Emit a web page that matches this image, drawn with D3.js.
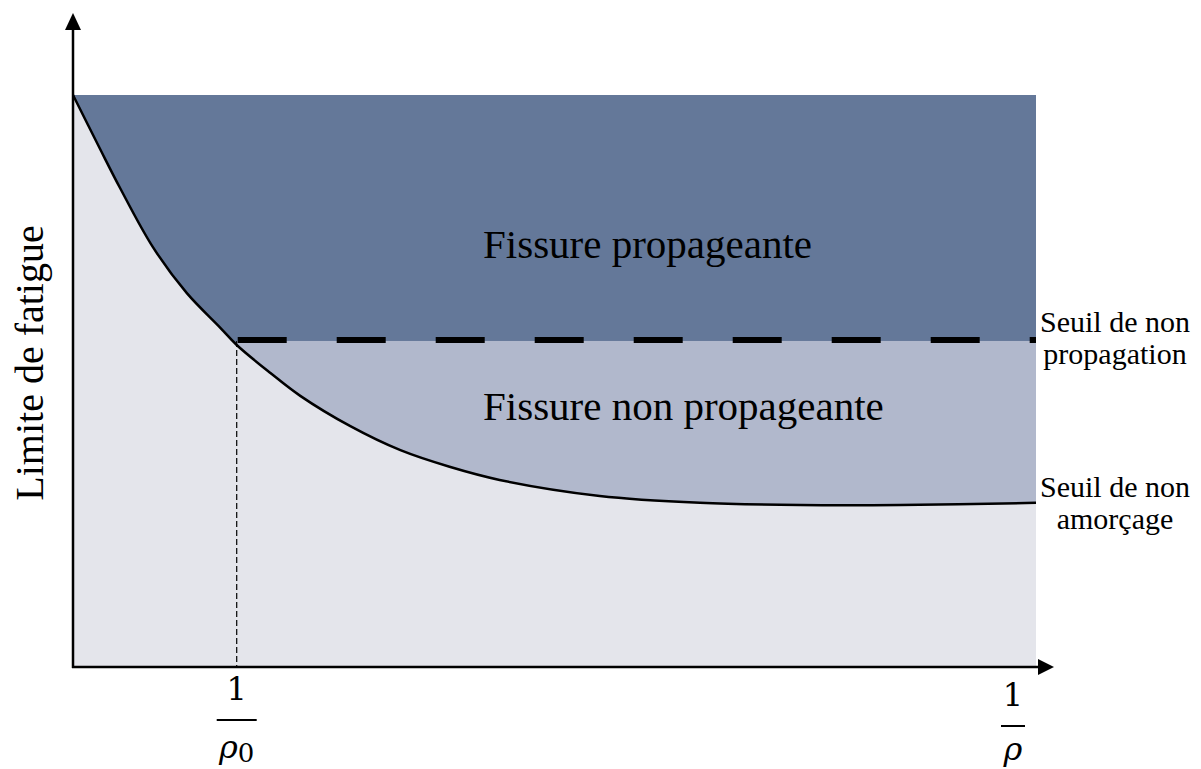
<!DOCTYPE html>
<html>
<head>
<meta charset="utf-8">
<script src="https://cdn.jsdelivr.net/npm/d3@7"></script>
<style>
  body { margin: 0; background: #fff; }
  svg { display: block; font-family: "Liberation Serif", "DejaVu Serif", serif; }
</style>
</head>
<body>
<svg id="chart" width="1201" height="769"></svg>
<script>
// curve of the fatigue limit (x = 1/rho, y = limit)
const curveX = [0, 2.8, 4.9, 8.3, 11.8, 15.3, 17.0, 20.5, 23.6, 28.8, 34.0, 39.1, 44.3, 54.7, 65.1, 75.5, 85.9, 100];
const curveY = [100, 90.6, 83.7, 73.4, 65.4, 59.3, 56.3, 51.4, 47.4, 42.1, 37.9, 35.0, 32.7, 29.9, 28.7, 28.3, 28.3, 28.7];
const rho0 = 17.0;
const threshold = 57.0;
const regionLabels = ["Fissure propageante", "Fissure non propageante"];
const sideLabels = [["Seuil de non", "propagation"], ["Seuil de non", "amorçage"]];

const svg = d3.select("#chart");

const x = d3.scaleLinear().domain([0, 100]).range([73, 1036]);
const y = d3.scaleLinear().domain([0, 100]).range([667, 95]);

const pts = curveX.map((d, i) => [d, curveY[i]]);

// background regions
svg.append("rect")
  .attr("x", x(0)).attr("y", y(100))
  .attr("width", x(100) - x(0)).attr("height", y(0) - y(100))
  .attr("fill", "#647899");

svg.append("rect")
  .attr("x", x(rho0)).attr("y", y(threshold))
  .attr("width", x(100) - x(rho0)).attr("height", y(0) - y(threshold))
  .attr("fill", "#b1b8cc");

const area = d3.area()
  .x(d => x(d[0]))
  .y0(y(0))
  .y1(d => y(d[1]))
  .curve(d3.curveCatmullRom.alpha(0.5));

svg.append("path")
  .datum(pts)
  .attr("d", area)
  .attr("fill", "#e4e5eb");

// threshold dashed line
svg.append("line")
  .attr("x1", x(rho0) + 1).attr("x2", x(100))
  .attr("y1", y(threshold) - 1).attr("y2", y(threshold) - 1)
  .attr("stroke", "#000").attr("stroke-width", 6)
  .attr("stroke-dasharray", "49 50");

// vertical dashed guide at rho0
svg.append("line")
  .attr("x1", x(rho0)).attr("x2", x(rho0))
  .attr("y1", y(threshold)).attr("y2", y(0))
  .attr("stroke", "#000").attr("stroke-width", 1.2)
  .attr("stroke-dasharray", "6 3");

// curve
const line = d3.line()
  .x(d => x(d[0]))
  .y(d => y(d[1]))
  .curve(d3.curveCatmullRom.alpha(0.5));

svg.append("path")
  .datum(pts)
  .attr("d", line)
  .attr("fill", "none")
  .attr("stroke", "#000")
  .attr("stroke-width", 2.5);

// axes with arrows
svg.append("line")
  .attr("x1", x(0)).attr("x2", x(0))
  .attr("y1", y(0) + 1).attr("y2", 28)
  .attr("stroke", "#000").attr("stroke-width", 2.5);
svg.append("path")
  .attr("d", `M${x(0)},13 L${x(0) - 8},30 L${x(0) + 8},30 Z`)
  .attr("fill", "#000");

svg.append("line")
  .attr("x1", x(0) - 1).attr("x2", 1040)
  .attr("y1", y(0)).attr("y2", y(0))
  .attr("stroke", "#000").attr("stroke-width", 2.5);
svg.append("path")
  .attr("d", `M1054,${y(0)} L1038,${y(0) - 8} L1038,${y(0) + 8} Z`)
  .attr("fill", "#000");

// axis label
svg.append("text")
  .attr("transform", `translate(43,363) rotate(-90)`)
  .attr("text-anchor", "middle")
  .attr("font-size", 40)
  .text("Limite de fatigue");

// fraction tick labels
function fraction(cx, barY, half, sub) {
  const g = svg.append("g").attr("font-family", "'DejaVu Serif', serif");
  g.append("text")
    .attr("x", cx).attr("y", barY - 20)
    .attr("text-anchor", "middle")
    .attr("font-size", 32)
    .text("1");
  g.append("line")
    .attr("x1", cx - half).attr("x2", cx + half)
    .attr("y1", barY).attr("y2", barY)
    .attr("stroke", "#000").attr("stroke-width", 2);
  const t = g.append("text")
    .attr("x", cx).attr("y", barY + (sub ? 38 : 34))
    .attr("text-anchor", "middle")
    .attr("font-size", 32);
  t.append("tspan").attr("font-style", "italic").text("ρ");
  if (sub) t.append("tspan").attr("font-size", 26).attr("dy", 4).text(sub);
}
fraction(x(rho0), 720, 20, "0");
fraction(1013, 726, 12, "");

// region labels
svg.append("text")
  .attr("x", 483).attr("y", 258)
  .attr("font-size", 41)
  .text(regionLabels[0]);
svg.append("text")
  .attr("x", 483).attr("y", 420)
  .attr("font-size", 41)
  .text(regionLabels[1]);

// side labels
const sideY = [332, 497];
sideLabels.forEach((lines, i) => {
  lines.forEach((s, j) => {
    svg.append("text")
      .attr("x", 1115).attr("y", sideY[i] + j * 32)
      .attr("text-anchor", "middle")
      .attr("font-size", 30)
      .text(s);
  });
});
</script>
</body>
</html>
